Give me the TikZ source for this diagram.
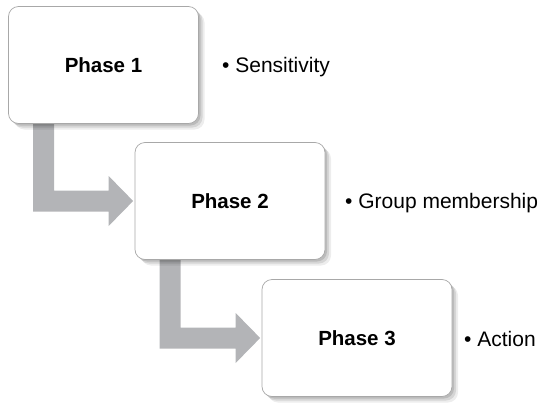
\documentclass[tikz,border=0pt]{standalone}
\usepackage{fontspec}
\setmainfont{Liberation Sans}
\usetikzlibrary{calc,shadows,backgrounds}
\definecolor{arrowgray}{HTML}{B3B4B7}
\definecolor{boxline}{HTML}{A8A8A8}
\tikzset{
  phasebox/.style={draw=boxline, line width=0.7pt, fill=white, rounded corners=10pt,
    minimum width=190pt, minimum height=117pt, inner sep=0pt,
    font=\fontsize{20.5}{24}\selectfont\bfseries,
    general shadow={shadow xshift=2pt,shadow yshift=-2pt,fill=black,opacity=.12},
    general shadow={shadow xshift=4pt,shadow yshift=-4pt,fill=black,opacity=.10},
    general shadow={shadow xshift=6pt,shadow yshift=-6pt,fill=black,opacity=.07}},
  bullettext/.style={anchor=west, inner sep=0pt, font=\fontsize{21}{24}\selectfont},
  blockarrow/.style={fill=arrowgray}
}
\newcommand\phasearrow[2]{%
  \path[blockarrow] let \p1=(#1.south west), \p2=(#2.west) in
    (\x1+25pt,\y1+12pt) -- (\x1+25pt,\y2-10.5pt) -- (\x2-26pt,\y2-10.5pt)
    -- (\x2-26pt,\y2-25pt) -- (\x2-1.5pt,\y2) -- (\x2-26pt,\y2+25pt)
    -- (\x2-26pt,\y2+10.5pt) -- (\x1+46pt,\y2+10.5pt) -- (\x1+46pt,\y1+12pt) -- cycle;}
\begin{document}
\begin{tikzpicture}[x=1pt,y=-1pt]
\useasboundingbox (0,0) rectangle (544,402);
\node[phasebox] (b1) at (103.5,65) {Phase 1};
\node[phasebox] (b2) at (230,201) {Phase 2};
\node[phasebox] (b3) at (357,338) {Phase 3};
\begin{scope}[on background layer]
\phasearrow{b1}{b2}
\phasearrow{b2}{b3}
\end{scope}
\node[bullettext] (t1) at (222,67) {• Sensitivity};
\node[bullettext] (t2) at (345,203) {• Group membership};
\node[bullettext] (t3) at (464,339) {• Action};
\end{tikzpicture}
\end{document}
